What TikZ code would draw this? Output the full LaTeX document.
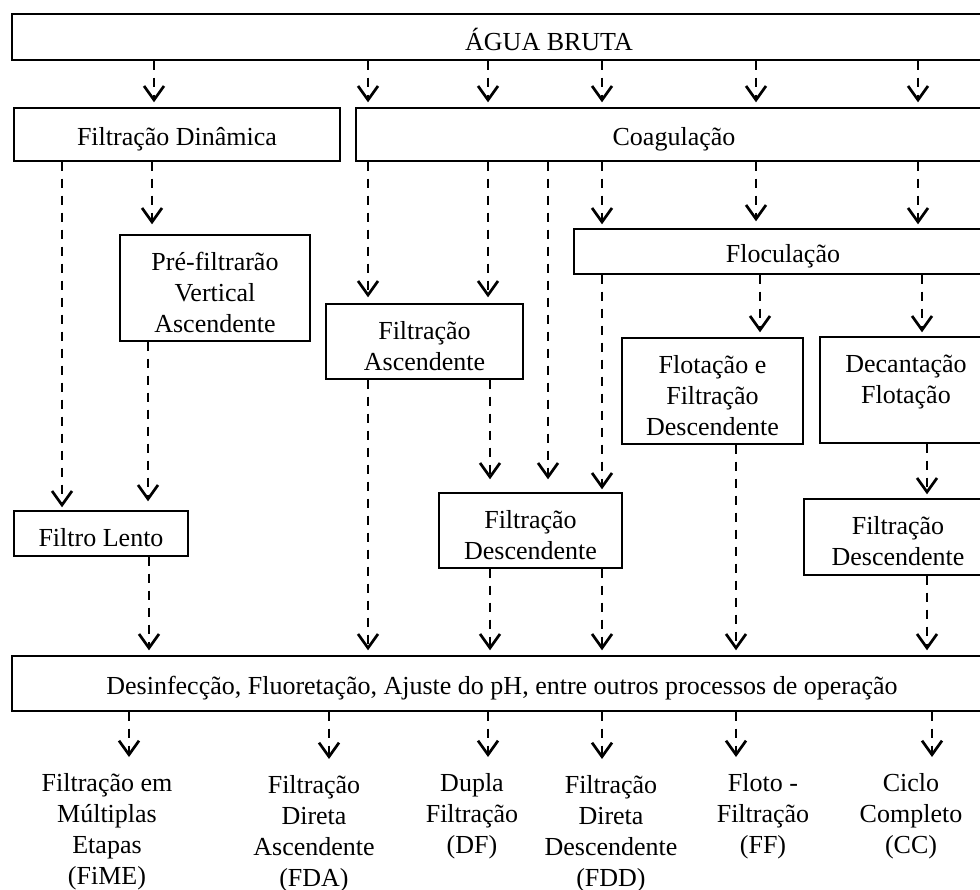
\documentclass[tikz,border=0pt]{standalone}
\usepackage{fontspec}
\setmainfont{Liberation Serif}
\usetikzlibrary{arrows.meta,positioning}

\newcommand{\topo}{\rule{0pt}{27pt}}
\tikzset{
  box/.style={draw, line width=1.4pt, inner sep=0pt, align=center,
    execute at begin node=\topo},
  flow/.style={line width=2.7pt, dash pattern=on 9pt off 8pt,
    -{Straight Barb[length=14pt,width=20pt]}},
  lbl/.style={align=center, inner sep=0pt, anchor=north}
}

\begin{document}
\begin{tikzpicture}[x=1pt, y=-1pt, every node/.style={font=\fontsize{26}{31}\selectfont}]
\path[use as bounding box, clip] (0,0) rectangle (980,890);

% caixas
\node[box, minimum width=1074pt, minimum height=46pt] (bruta) at (549,37) {ÁGUA BRUTA};
\node[box, minimum width=326pt, minimum height=53pt] (dyn) at (177,134.5) {Filtração Dinâmica};
\node[box, minimum width=636pt, minimum height=53pt] (coag) at (674,134.5) {Coagulação};
\node[box, minimum width=190pt, minimum height=106pt] (pre) at (215,288) {\topo Pré-filtrarão\\Vertical\\Ascendente};
\node[box, minimum width=174pt, minimum height=45pt] (lento) at (101,533.5) {Filtro Lento};
\node[box, minimum width=197pt, minimum height=75pt] (fasc) at (424.5,341.5) {\topo Filtração\\Ascendente};
\node[box, minimum width=418pt, minimum height=45pt] (floc) at (783,251.5) {Floculação};
\node[box, minimum width=183pt, minimum height=75pt] (fdesc) at (530.5,530.5) {\topo Filtração\\Descendente};
\node[box, minimum width=181pt, minimum height=106pt] (flotf) at (712.5,391) {\topo Flotação e\\Filtração\\Descendente};
\node[box, minimum width=172pt, minimum height=106pt] (decant) at (906,390) {\topo Decantação\\Flotação\\\mbox{}};
\node[box, minimum width=188pt, minimum height=76pt] (fdescb) at (898,537) {\topo Filtração\\Descendente};
\node[box, minimum width=980pt, minimum height=55pt] (final) at (502,683.5) {Desinfecção, Fluoretação, Ajuste do pH, entre outros processos de operação};

% resultados
\node[lbl] (fime) at (107,773) {Filtração em\\Múltiplas\\Etapas\\(FiME)};
\node[lbl] (fda) at (314,775) {Filtração\\Direta\\Ascendente\\(FDA)};
\node[lbl] (df) at (472,773) {Dupla\\Filtração\\(DF)};
\node[lbl] (fdd) at (611,775) {Filtração\\Direta\\Descendente\\(FDD)};
\node[lbl] (ff) at (763,773) {Floto -\\Filtração\\(FF)};
\node[lbl] (cc) at (911,773) {Ciclo\\Completo\\(CC)};

% setas
\foreach \x/\a/\b/\g in {154/bruta/dyn/5, 368/bruta/coag/5, 488/bruta/coag/5,
    602/bruta/coag/5, 756/bruta/coag/5, 918/bruta/coag/5,
    62/dyn/lento/3, 152/dyn/pre/10, 148/pre/lento/9,
    368/coag/fasc/6, 488/coag/fasc/6, 548/coag/fdesc/13,
    602/coag/floc/4, 756/coag/floc/7, 918/coag/floc/4,
    490/fasc/fdesc/13, 602/floc/fdesc/3, 760/floc/flotf/5,
    922/floc/decant/4, 927/decant/fdescb/4,
    149/lento/final/5, 368/fasc/final/5, 490/fdesc/final/5,
    602/fdesc/final/5, 736/flotf/final/5, 927/fdescb/final/5}{
  \draw[flow, shorten >=\g pt] (\x,0 |- \a.south) -- (\x,0 |- \b.north);
}
\foreach \x/\b in {129/fime, 329/fda, 488/df, 602/fdd, 736/ff, 932/cc}{
  \draw[flow, shorten >=16pt] (\x,0 |- final.south) -- (\x,0 |- \b.north);
}
\end{tikzpicture}
\end{document}
